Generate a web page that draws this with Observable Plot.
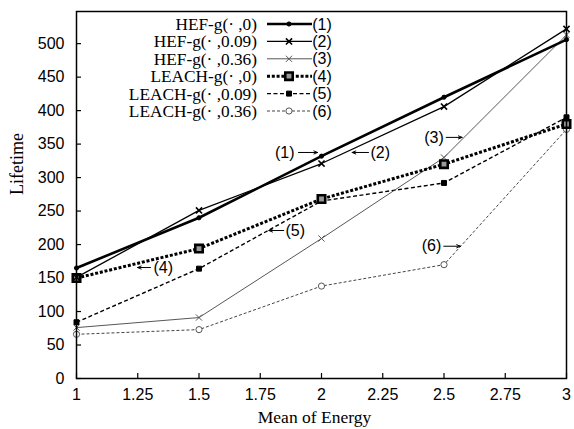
<!DOCTYPE html>
<html><head><meta charset="utf-8">
<script src="https://cdn.jsdelivr.net/npm/d3@7"></script>
<script src="https://cdn.jsdelivr.net/npm/@observablehq/plot@0.6"></script>
<style>body{margin:0;background:#fff}</style>
</head><body><div id="chart"></div>
<script>
// ---- data ----
const energy = [1, 1.5, 2, 2.5, 3];
const hef0 = [165, 240, 332, 420, 506];
const hef009 = [151, 251, 321, 406, 522];
const hef036 = [76, 91, 209, 330, 513];
const leach0 = [150, 194, 268, 320, 380];
const leach009 = [84, 164, 265, 292, 390];
const leach036 = [66, 73, 138, 170, 372];
const seriesNames = ["HEF-g(· ,0)", "HEF-g(· ,0.09)", "HEF-g(· ,0.36)", "LEACH-g(· ,0)", "LEACH-g(· ,0.09)", "LEACH-g(· ,0.36)"];
const seriesTags = ["(1)", "(2)", "(3)", "(4)", "(5)", "(6)"];
const xTicks = [1, 1.25, 1.5, 1.75, 2, 2.25, 2.5, 2.75, 3];
const xTickLabels = ["1", "1.25", "1.5", "1.75", "2", "2.25", "2.5", "2.75", "3"];
const yTicks = [0, 50, 100, 150, 200, 250, 300, 350, 400, 450, 500];
const xLabel = "Mean of Energy";
const yLabel = "Lifetime";
// annotations (data space)
const annoTextX = [1.89, 2.20, 2.499, 1.314, 1.853, 2.489];
const annoTextY = [337.5, 337.5, 360, 165.7, 221, 197.5];
const arrowTailX = [1.906, 2.192, 2.509, 1.302, 1.846, 2.499];
const arrowHeadX = [1.984, 2.125, 2.574, 1.249, 1.785, 2.567];

// ---- styles ----
const styles = [
  {stroke: "#000", sw: 2.6, dash: null, symbol: "circle", r: 2.1, mStroke: "#000", mFill: "#000", msw: 1},
  {stroke: "#000", sw: 1.3, dash: null, symbol: "times", r: 2.9, mStroke: "#000", mFill: "none", msw: 1.6},
  {stroke: "#444", sw: 0.9, dash: null, symbol: "times", r: 2.9, mStroke: "#555", mFill: "none", msw: 1},
  {stroke: "#000", sw: 3, dash: "3,1.8", symbol: "square", r: 4.2, mStroke: "#000", mFill: "#999", msw: 2.6},
  {stroke: "#000", sw: 1.4, dash: "4,2.5", symbol: "square", r: 2.8, mStroke: "#000", mFill: "#000", msw: 1},
  {stroke: "#444", sw: 1, dash: "3,2", symbol: "circle", r: 3.1, mStroke: "#555", mFill: "#fff", msw: 1}
];
const allSeries = [hef0, hef009, hef036, leach0, leach009, leach036];
const rows = [];
allSeries.forEach((vals, s) => vals.forEach((v, i) => rows.push({s, x: energy[i], y: v})));
const annos = seriesTags.map((t, i) => ({t, tx: annoTextX[i], ty: annoTextY[i], x1: arrowTailX[i], x2: arrowHeadX[i]}));
const anchors = ["end", "start", "end", "start", "start", "end"];

const serif = "'Liberation Serif', 'Times New Roman', serif";
const sans = "'Liberation Sans', Arial, Helvetica, sans-serif";

const marks = [];
const order = [5, 4, 2, 3, 1, 0];
for (const s of order) {
  const st = styles[s];
  const d = rows.filter(r => r.s === s);
  marks.push(Plot.line(d, {x: "x", y: "y", stroke: st.stroke, strokeWidth: st.sw, strokeDasharray: st.dash, strokeLinecap: "butt"}));
}
for (const s of order) {
  const st = styles[s];
  const d = rows.filter(r => r.s === s);
  marks.push(Plot.dot(d, {x: "x", y: "y", symbol: st.symbol, r: st.r, stroke: st.mStroke, fill: st.mFill, strokeWidth: st.msw}));
}
annos.forEach((a, i) => {
  marks.push(Plot.text([a], {x: "tx", y: "ty", text: "t", textAnchor: anchors[i], fontFamily: sans, fontSize: 16, fill: "#000"}));
  marks.push(Plot.arrow([a], {x1: "x1", x2: "x2", y1: "ty", y2: "ty", stroke: "#000", strokeWidth: 1, headLength: 6, headAngle: 45}));
});

const chart = Plot.plot({
  width: 574,
  height: 429,
  marginLeft: 76,
  marginRight: 8,
  marginTop: 11,
  marginBottom: 51,
  style: {fontFamily: sans, fontSize: "15px", color: "#000", background: "#fff"},
  x: {domain: [1, 3], ticks: xTicks},
  y: {domain: [0, 548], ticks: yTicks},
  marks: [
    ...marks,
    Plot.frame({stroke: "#000", strokeWidth: 1.5}),
    Plot.axisY(yTicks, {tickSize: -5, tickPadding: 17, label: null, fontSize: 16, strokeWidth: 1.2}),
    Plot.axisX(xTicks, {tickSize: -5, tickPadding: 15, label: null, fontSize: 16, strokeWidth: 1.2, tickFormat: (d) => xTickLabels[xTicks.indexOf(d)]}),
    Plot.text([yLabel], {frameAnchor: "left", rotate: -90, dx: -59, fontFamily: serif, fontSize: 18, fill: "#000"}),
    Plot.text([xLabel], {frameAnchor: "bottom", dy: 44, dx: -7, fontFamily: serif, fontSize: 17.5, fill: "#000"})
  ]
});
document.getElementById("chart").appendChild(chart);

// ---- legend (inside plot, top) ----
const svg = d3.select(chart);
const lg = svg.append("g").attr("class", "legend");
const rowY0 = 24, rowH = 17.4;
const symMap = {circle: d3.symbolCircle, times: d3.symbolTimes, square: d3.symbolSquare};
seriesNames.forEach((name, i) => {
  const st = styles[i];
  const y = rowY0 + i * rowH;
  lg.append("text").attr("x", 257).attr("y", y).attr("dy", "0.35em")
    .attr("text-anchor", "end").attr("font-family", serif).attr("font-size", 17.3).attr("fill", "#000").text(name);
  lg.append("line").attr("x1", 267).attr("x2", 312).attr("y1", y).attr("y2", y)
    .attr("stroke", st.stroke).attr("stroke-width", st.sw).attr("stroke-dasharray", st.dash);
  lg.append("path").attr("transform", `translate(289,${y})`)
    .attr("d", d3.symbol(symMap[st.symbol], Math.PI * st.r * st.r)())
    .attr("stroke", st.mStroke).attr("fill", st.mFill).attr("stroke-width", st.msw);
  lg.append("text").attr("x", 322).attr("y", y).attr("dy", "0.35em")
    .attr("font-family", sans).attr("font-size", 16).attr("fill", "#000").text(seriesTags[i]);
});
</script></body></html>
